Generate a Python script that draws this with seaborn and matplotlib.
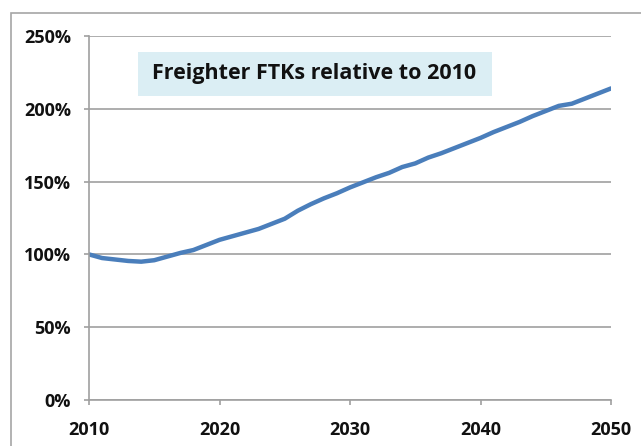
import matplotlib
matplotlib.use("Agg")
import matplotlib.pyplot as plt
import matplotlib.patches as mpatches
from matplotlib.ticker import FuncFormatter
import seaborn as sns
import pandas as pd

years = list(range(2010, 2051))
ftk_pct = [100, 97.5, 96.5, 95.5, 95, 96, 98.5, 101, 103, 106.5,
           110, 112.5, 115, 117.5, 121, 124.5, 130, 134.5, 138.5, 142,
           146, 149.5, 153, 156, 160, 162.5, 166.5, 169.5, 173, 176.5,
           180, 184, 187.5, 191, 195, 198.5, 202, 203.5, 207, 210.5, 214]
title_text = "Freighter FTKs relative to 2010"

df = pd.DataFrame({"year": years, "pct": ftk_pct})

sns.set_theme(style="white")
plt.rcParams["font.family"] = ["Open Sans", "DejaVu Sans"]

fig = plt.figure(figsize=(6.41, 4.46), dpi=100)
ax = fig.add_axes([89 / 641, 46 / 446, 522 / 641, 364 / 446])

# outer chart frame (runs off the right and bottom edges)
frame = mpatches.Rectangle((11 / 641, -0.1), 1.2, 1 - 13 / 446 + 0.1,
                           transform=fig.transFigure, fill=False,
                           edgecolor="#a6a6a6", linewidth=1.2, zorder=0)
fig.patches.append(frame)

sns.lineplot(data=df, x="year", y="pct", ax=ax, color="#4a7ebb", linewidth=3.2)

ax.set_xlim(2010, 2050)
ax.set_ylim(0, 250)
ax.set_xticks([2010, 2020, 2030, 2040, 2050])
ax.set_yticks([0, 50, 100, 150, 200, 250])
ax.yaxis.set_major_formatter(FuncFormatter(lambda v, p: f"{int(v)}%"))
ax.grid(axis="y", color="#a0a0a0", linewidth=1.2)
ax.set_axisbelow(True)
for s in ["top", "right"]:
    ax.spines[s].set_visible(False)
for s in ["left", "bottom"]:
    ax.spines[s].set_color("#a0a0a0")
    ax.spines[s].set_linewidth(1.2)
ax.tick_params(axis="both", which="major", length=3.8, width=1.2, color="#a0a0a0",
               direction="out", labelsize=13, bottom=True, left=True,
               labelcolor="#111111")
ax.tick_params(axis="x", pad=11)
ax.tick_params(axis="y", pad=9)
for lab in ax.get_xticklabels() + ax.get_yticklabels():
    lab.set_fontweight("bold")
ax.set_xlabel("")
ax.set_ylabel("")

# title box
box = mpatches.Rectangle((138 / 641, 1 - 96 / 446), (492 - 138) / 641, 44 / 446,
                         transform=fig.transFigure, facecolor="#dbeef4",
                         edgecolor="none", zorder=0.5)
fig.patches.append(box)
fig.text(314 / 641, 1 - 74 / 446, title_text, ha="center", va="center",
         fontsize=15.5, fontweight="bold", color="#111111", zorder=3)

fig.savefig("out.png", dpi=100)
